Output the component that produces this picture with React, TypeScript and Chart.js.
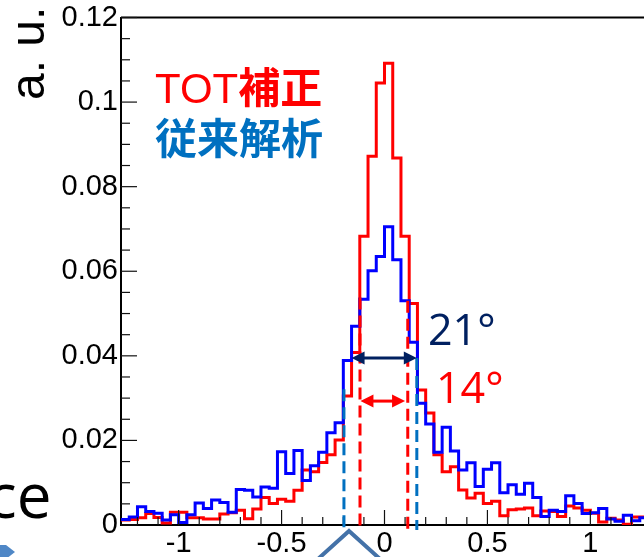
import React, { useEffect, useRef } from 'react';
import { Chart, registerables } from 'chart.js';

Chart.register(...registerables);

// Histogram binning (64 bins of 0.04 from -1.28 to 1.28)
const binLow = -1.28;
const binWidth = 0.04;

// "TOT補正" series (red)
const totValues = [
  0.0012, 0.0013, 0.0017, 0.0027, 0.0018, 0.0005, 0.0030, 0.0030,
  0.0017, 0.0017, 0.0014, 0.0014, 0.0026, 0.0029, 0.0035, 0.0015,
  0.0038, 0.0065, 0.0051, 0.0061, 0.0056, 0.0082, 0.0130, 0.0126,
  0.0148, 0.0166, 0.0201, 0.0305, 0.0408, 0.0683, 0.0872, 0.1045,
  0.1092, 0.0868, 0.0683, 0.0524, 0.0319, 0.0265, 0.0166, 0.0126,
  0.0138, 0.0083, 0.0064, 0.0075, 0.0051, 0.0056, 0.0022, 0.0036,
  0.0038, 0.0040, 0.0022, 0.0033, 0.0032, 0.0020, 0.0045, 0.0040,
  0.0035, 0.0028, 0.0007, 0.0016, 0.0012, 0.0002, 0.0019, 0.0019,
];

// "従来解析" series (blue)
const convValues = [
  0.0013, 0.0019, 0.0043, 0.0032, 0.0028, 0.0012, 0.0024, 0.0006,
  0.0024, 0.0052, 0.0039, 0.0059, 0.0053, 0.0030, 0.0084, 0.0082,
  0.0066, 0.0090, 0.0087, 0.0173, 0.0122, 0.0176, 0.0105, 0.0140,
  0.0172, 0.0218, 0.0242, 0.0389, 0.0470, 0.0534, 0.0601, 0.0635,
  0.0705, 0.0627, 0.0530, 0.0432, 0.0288, 0.0239, 0.0172, 0.0231,
  0.0175, 0.0130, 0.0147, 0.0091, 0.0132, 0.0147, 0.0076, 0.0095,
  0.0073, 0.0099, 0.0065, 0.0020, 0.0035, 0.0032, 0.0069, 0.0051,
  0.0027, 0.0029, 0.0039, 0.0014, 0.0009, 0.0023, 0.0010, 0.0017,
];

const xTickValues = [-1, -0.5, 0, 0.5, 1];
const yTickValues = [0, 0.02, 0.04, 0.06, 0.08, 0.1, 0.12];
const xMinorStep = 0.1;
const yMinorStep = 0.005;

// FWHM markers (data coordinates)
const fwhmLines = [
  { x: -0.197, yTop: 0.0321, color: '#0070C0' },
  { x: 0.157, yTop: 0.0395, color: '#0070C0' },
  { x: -0.119, yTop: 0.0538, color: '#FF0000' },
  { x: 0.113, yTop: 0.053, color: '#FF0000' },
];
const fwhmArrows = [
  { x1: -0.16, x2: 0.157, y: 0.0395, color: '#002060' },
  { x1: -0.117, x2: 0.1, y: 0.0293, color: '#FF0000' },
];

function histPoints(values: number[]) {
  const pts = values.map((v, i) => ({ x: binLow + i * binWidth, y: v }));
  pts.push({ x: binLow + values.length * binWidth, y: values[values.length - 1] });
  return pts;
}

const overlayPlugin = {
  id: 'overlay',
  afterDraw(chart: any) {
    const { ctx, chartArea: a, scales } = chart;
    const xs = scales.x;
    const ys = scales.y;
    ctx.save();
    // frame (top & right)
    ctx.strokeStyle = '#000';
    ctx.lineWidth = 2;
    ctx.beginPath();
    ctx.moveTo(a.left, a.top);
    ctx.lineTo(a.right, a.top);
    ctx.lineTo(a.right, a.bottom);
    ctx.stroke();
    // inward ticks
    ctx.lineWidth = 1.2;
    ctx.strokeStyle = '#111';
    const nx = Math.round(1.28 / xMinorStep);
    for (let i = -nx; i <= nx; i++) {
      const v = i * xMinorStep;
      if (v < xs.min || v > xs.max) continue;
      const px = xs.getPixelForValue(v);
      const len = i % 5 === 0 ? 15 : 8;
      ctx.beginPath();
      ctx.moveTo(px, a.bottom);
      ctx.lineTo(px, a.bottom - len);
      ctx.stroke();
    }
    const ny = Math.round(0.12 / yMinorStep);
    for (let i = 0; i <= ny; i++) {
      const v = i * yMinorStep;
      const py = ys.getPixelForValue(v);
      const len = i % 4 === 0 ? 16 : 9;
      ctx.beginPath();
      ctx.moveTo(a.left, py);
      ctx.lineTo(a.left + len, py);
      ctx.stroke();
    }
    // dashed FWHM lines
    ctx.lineWidth = 3;
    ctx.setLineDash([12, 6]);
    for (const l of fwhmLines) {
      const px = xs.getPixelForValue(l.x);
      ctx.strokeStyle = l.color;
      ctx.beginPath();
      ctx.moveTo(px, ys.getPixelForValue(l.yTop));
      ctx.lineTo(px, ys.getPixelForValue(-0.0012));
      ctx.stroke();
    }
    ctx.setLineDash([]);
    // double arrows
    const head = 13;
    const half = 6.5;
    for (const ar of fwhmArrows) {
      const xa = xs.getPixelForValue(ar.x1);
      const xb = xs.getPixelForValue(ar.x2);
      const yy = ys.getPixelForValue(ar.y);
      ctx.strokeStyle = ar.color;
      ctx.fillStyle = ar.color;
      ctx.lineWidth = 3;
      ctx.beginPath();
      ctx.moveTo(xa + head - 1, yy);
      ctx.lineTo(xb - head + 1, yy);
      ctx.stroke();
      ctx.beginPath();
      ctx.moveTo(xa, yy);
      ctx.lineTo(xa + head, yy - half);
      ctx.lineTo(xa + head, yy + half);
      ctx.closePath();
      ctx.fill();
      ctx.beginPath();
      ctx.moveTo(xb, yy);
      ctx.lineTo(xb - head, yy - half);
      ctx.lineTo(xb - head, yy + half);
      ctx.closePath();
      ctx.fill();
    }
    ctx.restore();
  },
};

export default function App() {
  const ref = useRef<HTMLCanvasElement>(null);
  useEffect(() => {
    const tickFont = { family: '"Liberation Sans", Arial, sans-serif', size: 29, lineHeight: 1 };
    const chart = new Chart(ref.current as HTMLCanvasElement, {
      type: 'line',
      data: {
        datasets: [
          {
            label: '従来解析',
            data: histPoints(convValues),
            borderColor: '#0000FF',
            borderWidth: 3,
            stepped: 'before',
            pointRadius: 0,
            fill: false,
          },
          {
            label: 'TOT補正',
            data: histPoints(totValues),
            borderColor: '#FF0000',
            borderWidth: 3,
            stepped: 'before',
            pointRadius: 0,
            fill: false,
          },
        ],
      },
      options: {
        responsive: false,
        maintainAspectRatio: false,
        animation: false,
        layout: { padding: { top: 15, left: 0, right: 4, bottom: 0 } },
        plugins: { legend: { display: false }, tooltip: { enabled: false } },
        scales: {
          x: {
            type: 'linear',
            min: binLow,
            max: binLow + totValues.length * binWidth,
            grid: { display: false, drawTicks: false },
            border: { display: true, color: '#000', width: 2 },
            ticks: {
              font: tickFont,
              color: '#000',
              padding: 4,
              maxRotation: 0,
              autoSkip: false,
              callback: (v: any) => String(v),
            },
            afterBuildTicks: (s: any) => {
              s.ticks = xTickValues.map((v) => ({ value: v }));
            },
            afterFit: (s: any) => {
              s.height = 32;
            },
          },
          y: {
            type: 'linear',
            min: 0,
            max: 0.12,
            grid: { display: false, drawTicks: false },
            border: { display: true, color: '#000', width: 2 },
            ticks: {
              font: tickFont,
              color: '#000',
              padding: 3,
              autoSkip: false,
              callback: (v: any) => String(v),
            },
            afterBuildTicks: (s: any) => {
              s.ticks = yTickValues.map((v) => ({ value: v }));
            },
            afterFit: (s: any) => {
              s.width = 121;
            },
          },
        },
      },
      plugins: [overlayPlugin],
    } as any);
    return () => chart.destroy();
  }, []);

  const abs: React.CSSProperties = { position: 'absolute', whiteSpace: 'nowrap', margin: 0 };

  return (
    <div style={{ position: 'absolute', left: 0, top: 0, width: 644, height: 557, overflow: 'hidden', background: '#fff' }}>
      <canvas ref={ref} width={652} height={557} style={{ position: 'absolute', left: 0, top: 0, width: 652, height: 557 }} />
      <div
        style={{
          ...abs,
          left: 4,
          top: 100,
          font: '48px "Liberation Sans", Arial, sans-serif',
          lineHeight: '48px',
          transform: 'rotate(-90deg)',
          transformOrigin: '0 0',
          color: '#000',
        }}
      >
        a. u.
      </div>
      <div
        style={{
          ...abs,
          left: 155,
          top: 68,
          fontFamily: '"Liberation Sans", "Noto Sans CJK JP", sans-serif',
          fontSize: 42,
          lineHeight: '42px',
          color: '#FF0000',
        }}
      >
        <span style={{ fontWeight: 400 }}>TOT</span>
        <span style={{ fontWeight: 700 }}>補正</span>
      </div>
      <div
        style={{
          ...abs,
          left: 155,
          top: 115,
          fontFamily: '"Noto Sans CJK JP", sans-serif',
          fontSize: 42,
          fontWeight: 700,
          lineHeight: '42px',
          color: '#0070C0',
        }}
      >
        従来解析
      </div>
      <div style={{ ...abs, left: 428, top: 307, font: '43px "Open Sans", sans-serif', lineHeight: '43px', color: '#002060' }}>
        21°
      </div>
      <div style={{ ...abs, left: 436, top: 365, font: '43px "Open Sans", sans-serif', lineHeight: '43px', color: '#FF0000' }}>
        14°
      </div>
      <div style={{ ...abs, left: -13, top: 463, font: '62px "Open Sans", sans-serif', lineHeight: '62px', color: '#000' }}>
        ce
      </div>
      <svg width={644} height={557} style={{ position: 'absolute', left: 0, top: 0, pointerEvents: 'none' }}>
        <polyline points="318,559 349,531 380,559" fill="none" stroke="#4472A8" strokeWidth={4} strokeLinejoin="miter" />
        <polygon points="0,545 6,545 15,552 6,559 0,559" fill="#4F87C6" />
      </svg>
    </div>
  );
}
